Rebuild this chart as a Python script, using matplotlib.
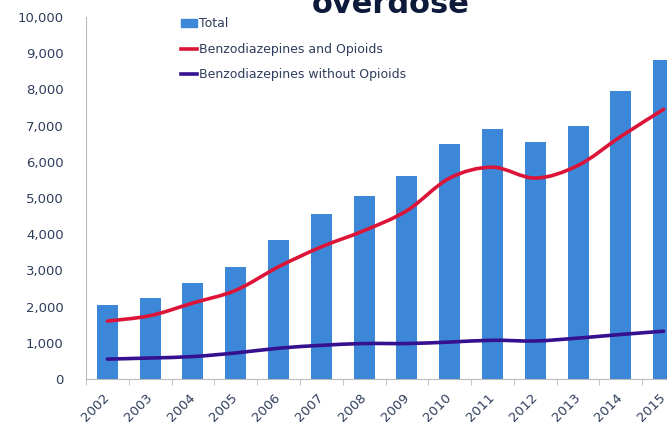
import matplotlib
matplotlib.use("Agg")
import matplotlib.pyplot as plt
import numpy as np
from matplotlib.path import Path
from matplotlib.patches import PathPatch
from matplotlib.lines import Line2D
from matplotlib.ticker import FuncFormatter

years = ["2002", "2003", "2004", "2005", "2006", "2007", "2008",
         "2009", "2010", "2011", "2012", "2013", "2014", "2015"]
total = [2040, 2250, 2650, 3100, 3850, 4550, 5050,
         5600, 6500, 6900, 6550, 7000, 7950, 8800]
benzo_opioids = [1600, 1750, 2100, 2450, 3100, 3650, 4100,
                 4650, 5550, 5850, 5550, 5900, 6700, 7450]
benzo_no_opioids = [550, 580, 620, 720, 850, 930, 980,
                    980, 1020, 1070, 1050, 1130, 1230, 1320]


def smooth_path(x, y):
    # excel-like smoothed line: cubic bezier segments through the data points
    x = np.asarray(x, float)
    y = np.asarray(y, float)
    verts = [(x[0], y[0])]
    codes = [Path.MOVETO]
    n = len(x)
    t = 1.0 / 6.0
    for i in range(n - 1):
        x0, y0 = (x[i - 1], y[i - 1]) if i > 0 else (x[i], y[i])
        x3, y3 = (x[i + 2], y[i + 2]) if i + 2 < n else (x[i + 1], y[i + 1])
        c1 = (x[i] + (x[i + 1] - x0) * t, y[i] + (y[i + 1] - y0) * t)
        c2 = (x[i + 1] - (x3 - x[i]) * t, y[i + 1] - (y3 - y[i]) * t)
        verts += [c1, c2, (x[i + 1], y[i + 1])]
        codes += [Path.CURVE4] * 3
    return Path(verts, codes)


fig = plt.figure(figsize=(6.67, 4.32), dpi=100)
ax = fig.add_axes([86 / 667, 53 / 432, 599 / 667, 362 / 432])

xs = np.arange(len(years))
ax.bar(xs, total, width=0.49, color="#3d87d8", zorder=2)

red = "#dc1437"
purple = "#35108f"
ax.add_patch(PathPatch(smooth_path(xs, benzo_opioids), fill=False,
                       edgecolor=red, lw=2.6, zorder=3, capstyle="round"))
ax.add_patch(PathPatch(smooth_path(xs, benzo_no_opioids), fill=False,
                       edgecolor=purple, lw=2.6, zorder=3, capstyle="round"))

ax.set_xlim(-0.5, len(years) - 0.5)
ax.set_ylim(0, 10000)
ax.set_yticks(np.arange(0, 10001, 1000))
ax.yaxis.set_major_formatter(FuncFormatter(lambda v, p: f"{int(v):,}"))
ax.set_xticks(xs)
ax.set_xticklabels(years, rotation=45, ha="right", va="center",
                   rotation_mode="anchor", fontsize=9.5, color="#2f3d5c")
ax.tick_params(axis="y", length=0, labelsize=9.5, labelcolor="#2f3d5c", pad=16)
ax.tick_params(axis="x", length=0, pad=12)
ax.set_xticks(np.arange(-0.5, len(years), 1), minor=True)
ax.tick_params(axis="x", which="minor", length=4, color="#bbbbbb")

for s in ["top", "right"]:
    ax.spines[s].set_visible(False)
ax.spines["left"].set_color("#bbbbbb")
ax.spines["bottom"].set_color("#bbbbbb")

handles = [
    plt.Rectangle((0, 0), 1, 1, color="#3d87d8"),
    Line2D([], [], color=red, lw=2.6),
    Line2D([], [], color=purple, lw=2.6),
]
labels = ["Total", "Benzodiazepines and Opioids", "Benzodiazepines without Opioids"]
ax.legend(handles, labels, loc="upper left", bbox_to_anchor=(0.14, 1.03),
          frameon=False, fontsize=9, labelcolor="#2f3d5c", handlelength=1.3,
          handletextpad=0.1, labelspacing=1.0)

fig.text(0.585, 1 - 13 / 432, "overdose", ha="center", va="baseline",
         fontsize=22, fontweight="bold", color="#0d1a3a")

fig.savefig("out.png", dpi=100)
